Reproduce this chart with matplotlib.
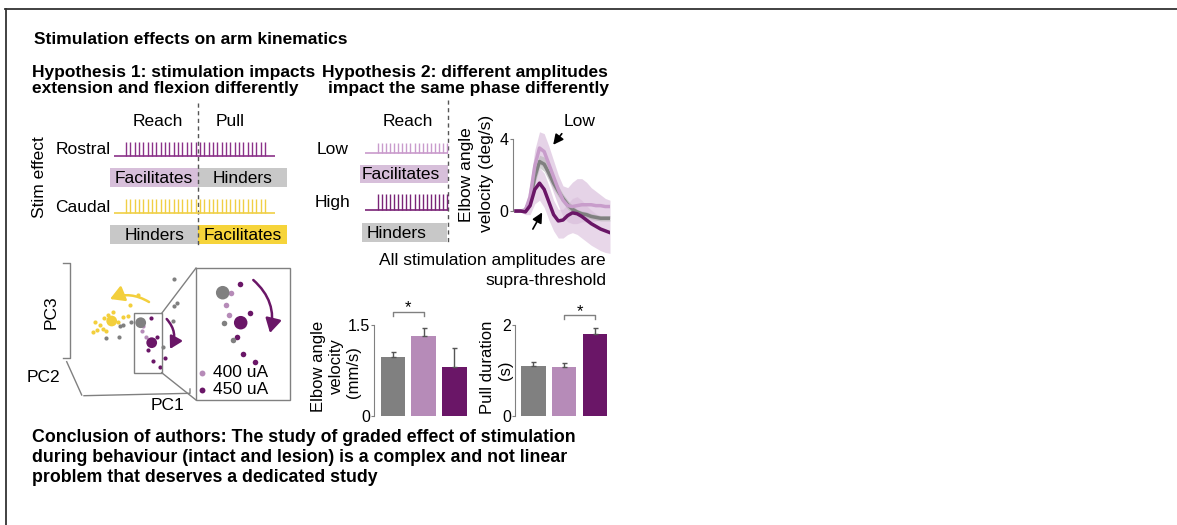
import numpy as np
import matplotlib
matplotlib.use('Agg')
from matplotlib import pyplot as plt
from matplotlib.patches import Rectangle, FancyArrowPatch

plt.rcParams['font.family'] = ['Liberation Sans', 'DejaVu Sans']

W, H = 1177, 525

GREY = '#808080'
LIGHT = '#b68bb8'
DARK = '#6a1667'
YELLOW = '#f3cf3c'
BOX_LIGHT = '#d7bfda'
BOX_GREY = '#c8c8c8'
BOX_YELLOW = '#f6d43a'

# stimulation pulse trains: number of pulses and relative amplitude
rostral_pulses, rostral_amp = 33, 0.9
caudal_pulses, caudal_amp = 33, 0.9
low_pulses, low_amp = 18, 0.6
high_pulses, high_amp = 18, 1.0

# elbow angle velocity traces (deg/s), mean and band
trace_time = [0.0, 0.05, 0.1, 0.15, 0.2, 0.25, 0.3, 0.35, 0.4, 0.45, 0.5,
              0.55, 0.6, 0.65, 0.7, 0.75, 0.8, 0.85, 0.9, 0.95, 1.0]
vel_grey = [0.0, 0.0, 0.05, 0.6, 1.9, 2.75, 2.6, 2.1, 1.55, 1.1, 0.7,
            0.35, 0.1, -0.05, -0.15, -0.2, -0.3, -0.35, -0.4, -0.4, -0.4]
vel_grey_hi = [0.05, 0.05, 0.15, 0.9, 2.3, 3.1, 3.0, 2.5, 1.9, 1.4, 0.95,
               0.6, 0.3, 0.1, 0.0, -0.05, -0.15, -0.2, -0.25, -0.25, -0.25]
vel_grey_lo = [-0.05, -0.05, -0.05, 0.3, 1.5, 2.4, 2.2, 1.7, 1.2, 0.8, 0.45,
               0.1, -0.1, -0.2, -0.3, -0.35, -0.45, -0.5, -0.55, -0.55, -0.55]
vel_low = [0.0, 0.0, 0.05, 0.8, 2.5, 3.5, 3.3, 2.6, 1.9, 1.2, 0.6,
           0.3, 0.25, 0.3, 0.35, 0.35, 0.35, 0.3, 0.3, 0.25, 0.25]
vel_low_hi = [0.05, 0.05, 0.2, 1.5, 3.4, 4.4, 4.3, 3.6, 2.8, 2.0, 1.4,
              1.3, 1.6, 1.8, 1.8, 1.6, 1.3, 1.1, 0.9, 0.7, 0.6]
vel_low_lo = [-0.05, -0.05, -0.1, 0.2, 1.6, 2.6, 2.4, 1.7, 1.0, 0.3, -0.3,
              -0.6, -0.7, -0.7, -0.6, -0.6, -0.6, -0.55, -0.5, -0.45, -0.4]
vel_high = [0.0, 0.0, -0.05, 0.3, 1.2, 1.55, 1.2, 0.5, -0.2, -0.55, -0.5,
            -0.25, -0.1, -0.15, -0.3, -0.5, -0.7, -0.85, -1.0, -1.1, -1.2]
vel_high_hi = [0.05, 0.05, 0.05, 0.7, 1.9, 2.4, 2.1, 1.4, 0.6, 0.1, 0.1,
               0.4, 0.7, 0.8, 0.6, 0.3, 0.05, -0.15, -0.3, -0.4, -0.5]
vel_high_lo = [-0.05, -0.05, -0.2, -0.2, 0.4, 0.6, 0.2, -0.5, -1.1, -1.5, -1.5,
               -1.3, -1.2, -1.3, -1.5, -1.7, -1.9, -2.05, -2.2, -2.3, -2.35]

# bar charts (control, 400 uA, 450 uA)
bar_colors = [GREY, LIGHT, DARK]
elbow_velocity = [0.98, 1.32, 0.81]
elbow_velocity_err = [0.08, 0.13, 0.31]
pull_duration = [1.10, 1.08, 1.80]
pull_duration_err = [0.09, 0.08, 0.14]

# PCA scores (PC1, PC3), arbitrary units
yellow_pc1 = [8.83, 8.43, 8.0, 8.27, 7.73, 7.27, 8.6, 9.83, 10.33, 10.83, 11.0, 11.77, 7.5, 9.3]
yellow_pc3 = [10.0, 9.73, 9.0, 8.57, 8.5, 8.33, 8.4, 9.33, 9.83, 9.9, 11.0, 12.0, 9.3, 10.3]
grey_pc1 = [15.4, 15.67, 15.4, 15.27, 10.0, 10.33, 8.6, 9.93, 14.33, 11.1]
grey_pc3 = [13.57, 11.17, 10.9, 9.43, 8.9, 9.0, 7.67, 7.77, 6.83, 9.33]
light_pc1 = [12.17, 12.6, 12.3]
light_pc3 = [8.4, 7.77, 8.9]
dark_pc1 = [13.07, 13.67, 12.83, 13.27, 14.0, 14.5]
dark_pc3 = [9.67, 7.77, 6.5, 5.43, 4.83, 5.67]
centroid_pc1 = [9.17, 12.07, 13.17]
centroid_pc3 = [9.4, 9.23, 7.23]
centroid_colors = [YELLOW, GREY, DARK]
# zoomed inset
zoom_light_pc1 = [21.1, 20.6, 20.93]
zoom_light_pc3 = [12.17, 11.0, 10.0]
zoom_dark_pc1 = [22.0, 23.0, 21.73, 22.27, 23.5]
zoom_dark_pc3 = [13.07, 10.17, 7.83, 6.1, 5.27]
zoom_grey_pc1 = [20.4, 21.33]
zoom_grey_pc3 = [9.17, 7.5]
zoom_centroid_pc1 = [20.27, 22.07]
zoom_centroid_pc3 = [12.23, 9.23]
zoom_centroid_colors = [GREY, DARK]

fig = plt.figure(figsize=(W / 100, H / 100), dpi=100)


def px_axes(x0, y0, x1, y1):
    ax = fig.add_axes([x0 / W, 1 - y1 / H, (x1 - x0) / W, (y1 - y0) / H])
    ax.patch.set_visible(False)
    return ax


canvas = fig.add_axes([0, 0, 1, 1])
canvas.set_xlim(0, W)
canvas.set_ylim(H, 0)
canvas.axis('off')
canvas.patch.set_visible(False)
canvas.set_zorder(10)


def label(x, y, s, size=12.5, **kw):
    kw.setdefault('va', 'center')
    canvas.text(x, y, s, fontsize=size, **kw)


def vlabel(x, y, s, size=12):
    # rotated axis label, one line per call
    canvas.text(x, y, s, fontsize=size, rotation=90, ha='center', va='center')


def pulse_train(base_x, tick_x, base_y, n, amp, color):
    canvas.plot(base_x, [base_y, base_y], color=color, lw=1.2, solid_capstyle='butt')
    canvas.vlines(np.linspace(tick_x[0], tick_x[1], n), base_y - 16 * amp, base_y,
                  color=color, lw=1.0)


def box(x, y, w, h, color, text, tx=None):
    canvas.add_patch(Rectangle((x, y), w, h, fc=color, ec='none'))
    if tx is None:
        label(x + w / 2, y + h / 2 + 0.5, text, ha='center')
    else:
        label(tx, y + h / 2 + 0.5, text, ha='left')


# frame
canvas.plot([5, W], [9, 9], color='#333333', lw=1.3, clip_on=False)
canvas.plot([5.5, 5.5], [9, H], color='#333333', lw=1.3, clip_on=False)

# headings
label(34, 40, 'Stimulation effects on arm kinematics', weight='bold')
label(32, 72, 'Hypothesis 1: stimulation impacts', weight='bold')
label(32, 89, 'extension and flexion differently', weight='bold')
label(322, 72, 'Hypothesis 2: different amplitudes', weight='bold')
label(328, 89, 'impact the same phase differently', weight='bold')
label(32, 438, 'Conclusion of authors: The study of graded effect of stimulation',
      size=12.8, weight='bold')
label(32, 458, 'during behaviour (intact and lesion) is a complex and not linear',
      size=12.8, weight='bold')
label(32, 477, 'problem that deserves a dedicated study', size=12.8, weight='bold')

# hypothesis 1 schematic
label(158, 122, 'Reach', ha='center')
label(230, 122, 'Pull', ha='center')
canvas.plot([198.3, 198.3], [103, 247], color='#555555', lw=1, ls=(0, (3, 2.5)))
vlabel(40, 177, 'Stim effect', size=12.5)
label(110.5, 150, 'Rostral', ha='right')
label(110.5, 207, 'Caudal', ha='right')
pulse_train([114, 275], [126, 265], 156, rostral_pulses, rostral_amp, '#8b3289')
pulse_train([114, 275], [126, 265], 213, caudal_pulses, caudal_amp, '#f0cf45')
box(110, 168.3, 88.3, 19, BOX_LIGHT, 'Facilitates')
box(198.3, 168.3, 88.4, 19, BOX_GREY, 'Hinders')
box(110, 225, 88.3, 19, BOX_GREY, 'Hinders')
box(198.3, 225, 88.4, 19, BOX_YELLOW, 'Facilitates')

# hypothesis 2 schematic
label(408, 122, 'Reach', ha='center')
canvas.plot([448.3, 448.3], [100, 244], color='#555555', lw=1, ls=(0, (3, 2.5)))
label(348.5, 150, 'Low', ha='right')
label(350, 202, 'High', ha='right')
pulse_train([365, 448], [378, 447], 153, low_pulses, low_amp, '#c99bcc')
pulse_train([365, 448], [378, 447], 210, high_pulses, high_amp, '#7a2477')
box(360, 165, 88.3, 18, BOX_LIGHT, 'Facilitates', tx=361.5)
box(361.7, 223.3, 85, 18.4, BOX_GREY, 'Hinders', tx=367)

# velocity traces
ax_t = px_axes(513, 121, 610, 253)
ax_t.fill_between(trace_time, vel_low_lo, vel_low_hi, color='#e3cfe5', lw=0, alpha=0.9)
ax_t.fill_between(trace_time, vel_high_lo, vel_high_hi, color='#d9bddb', lw=0, alpha=0.6)
ax_t.fill_between(trace_time, vel_grey_lo, vel_grey_hi, color='#b5b5b5', lw=0, alpha=0.6)
ax_t.plot(trace_time, vel_grey, color=GREY, lw=2.5)
ax_t.plot(trace_time, vel_low, color='#c89dcb', lw=2.5)
ax_t.plot(trace_time, vel_high, color=DARK, lw=2.5)
ax_t.set_xlim(-0.032, 1.0)
ax_t.set_ylim(-2.33, 5.0)
for s in ['top', 'right', 'bottom']:
    ax_t.spines[s].set_visible(False)
ax_t.spines['left'].set_bounds(0, 4)
ax_t.spines['left'].set_color(GREY)
ax_t.set_xticks([])
ax_t.set_yticks([0, 4])
ax_t.tick_params(axis='y', length=2.5, color=GREY, labelsize=11.5, pad=1)
vlabel(467, 175, 'Elbow angle', size=12.5)
vlabel(486.5, 173, 'velocity (deg/s)', size=12.5)
label(580, 121.7, 'Low', ha='center')
canvas.annotate('', xy=(551.5, 147), xytext=(563.5, 131.5),
                arrowprops=dict(arrowstyle='-|>,head_length=0.6,head_width=0.3',
                                color='black', lw=1.2, mutation_scale=10))
canvas.annotate('', xy=(543.5, 210), xytext=(531.5, 231.5),
                arrowprops=dict(arrowstyle='-|>,head_length=0.6,head_width=0.3',
                                color='black', lw=1.2, mutation_scale=10))
label(606, 260, 'All stimulation amplitudes are', ha='right')
label(606, 280, 'supra-threshold', ha='right')


# bar charts
def bar_panel(ax, vals, errs, top, ticklabel):
    xs = [0, 1, 2]
    ax.bar(xs, vals, width=0.8, color=bar_colors, edgecolor='none')
    ax.errorbar(xs, vals, yerr=[[0, 0, 0], errs], fmt='none', ecolor='#555555',
                elinewidth=1, capsize=1.8, capthick=1)
    ax.set_ylim(0, top)
    for s in ['top', 'right', 'bottom']:
        ax.spines[s].set_visible(False)
    ax.spines['left'].set_color(GREY)
    ax.set_xticks([])
    ax.set_yticks([0, top])
    ax.set_yticklabels(['0', ticklabel])
    ax.tick_params(axis='y', length=2.5, color=GREY, labelsize=11.5, pad=0.5)


ax_v = px_axes(374, 325, 468, 416)
ax_v.set_xlim(-0.62, 2.44)
bar_panel(ax_v, elbow_velocity, elbow_velocity_err, 1.5, '1.5')
ax_v.plot([0, 0, 1, 1], [1.65, 1.72, 1.72, 1.65], color=GREY, lw=1, clip_on=False)
ax_v.text(0.5, 1.78, '*', ha='center', va='center', fontsize=12)

ax_p = px_axes(515, 325, 609, 416)
ax_p.set_xlim(-0.6, 2.46)
bar_panel(ax_p, pull_duration, pull_duration_err, 2, '2')
ax_p.plot([1, 1, 2, 2], [2.13, 2.22, 2.22, 2.13], color=GREY, lw=1, clip_on=False)
ax_p.text(1.5, 2.3, '*', ha='center', va='center', fontsize=12)

vlabel(318, 366, 'Elbow angle')
vlabel(336, 366, 'velocity')
vlabel(353, 372, '(mm/s)')
vlabel(488, 367, 'Pull duration')
vlabel(505, 370, '(s)')

# PCA schematic
ax_c = px_axes(20, 255, 310, 415)
ax_c.set_xlim(0, 29)
ax_c.set_ylim(0, 16)
ax_c.axis('off')
ax_c.scatter(yellow_pc1, yellow_pc3, s=9, c=YELLOW, lw=0)
ax_c.scatter(grey_pc1, grey_pc3, s=9, c=GREY, lw=0)
ax_c.scatter(light_pc1, light_pc3, s=9, c=LIGHT, lw=0)
ax_c.scatter(dark_pc1, dark_pc3, s=9, c=DARK, lw=0)
ax_c.scatter(centroid_pc1, centroid_pc3, s=60, c=centroid_colors, lw=0)
ax_c.scatter(zoom_light_pc1, zoom_light_pc3, s=16, c=LIGHT, lw=0)
ax_c.scatter(zoom_dark_pc1, zoom_dark_pc3, s=16, c=DARK, lw=0)
ax_c.scatter(zoom_grey_pc1, zoom_grey_pc3, s=16, c=GREY, lw=0)
ax_c.scatter(zoom_centroid_pc1, zoom_centroid_pc3, s=95, c=zoom_centroid_colors, lw=0)

frame_kw = dict(color=GREY, lw=1, clip_on=False)
# PC axes
ax_c.plot([4.33, 5.0, 5.0, 4.33], [15.23, 15.23, 5.67, 5.67], **frame_kw)
ax_c.plot([4.67, 6.17], [5.33, 2.0], **frame_kw)
ax_c.plot([6.4, 17.0, 17.0], [1.93, 2.17, 2.6], **frame_kw)
ax_c.text(3.1, 10.3, 'PC3', rotation=90, ha='center', va='center', fontsize=12.5)
ax_c.text(2.3, 3.7, 'PC2', ha='center', va='center', fontsize=12.5)
ax_c.text(14.7, 1.0, 'PC1', ha='center', va='center', fontsize=12.5)
# zoom boxes
ax_c.add_patch(Rectangle((11.43, 4.23), 2.74, 5.94, fill=False, ec=GREY, lw=1))
ax_c.add_patch(Rectangle((17.6, 1.5), 9.4, 13.2, fill=False, ec=GREY, lw=1))
ax_c.plot([14.17, 17.6], [10.17, 14.7], **frame_kw)
ax_c.plot([14.17, 17.6], [4.23, 1.5], **frame_kw)
# curved arrows
head = '-|>,head_length=0.7,head_width=0.4'
ax_c.add_patch(FancyArrowPatch((12.9, 11.3), (9.0, 11.6), connectionstyle='arc3,rad=0.25',
                               arrowstyle=head, mutation_scale=12, lw=1.8, color=YELLOW,
                               shrinkA=0, shrinkB=0))
ax_c.add_patch(FancyArrowPatch((14.67, 9.6), (15.0, 6.6), connectionstyle='arc3,rad=-0.35',
                               arrowstyle=head, mutation_scale=10, lw=1.8, color=DARK,
                               shrinkA=0, shrinkB=0))
ax_c.add_patch(FancyArrowPatch((23.33, 13.5), (25.0, 8.2), connectionstyle='arc3,rad=-0.3',
                               arrowstyle=head, mutation_scale=12, lw=1.8, color=DARK,
                               shrinkA=0, shrinkB=0))
# legend
ax_c.scatter([18.17], [4.23], s=18, c=LIGHT, lw=0)
ax_c.scatter([18.17], [2.5], s=18, c=DARK, lw=0)
ax_c.text(19.3, 4.23, '400 uA', va='center', fontsize=12.5)
ax_c.text(19.3, 2.5, '450 uA', va='center', fontsize=12.5)

fig.savefig('out.png', dpi=100)
